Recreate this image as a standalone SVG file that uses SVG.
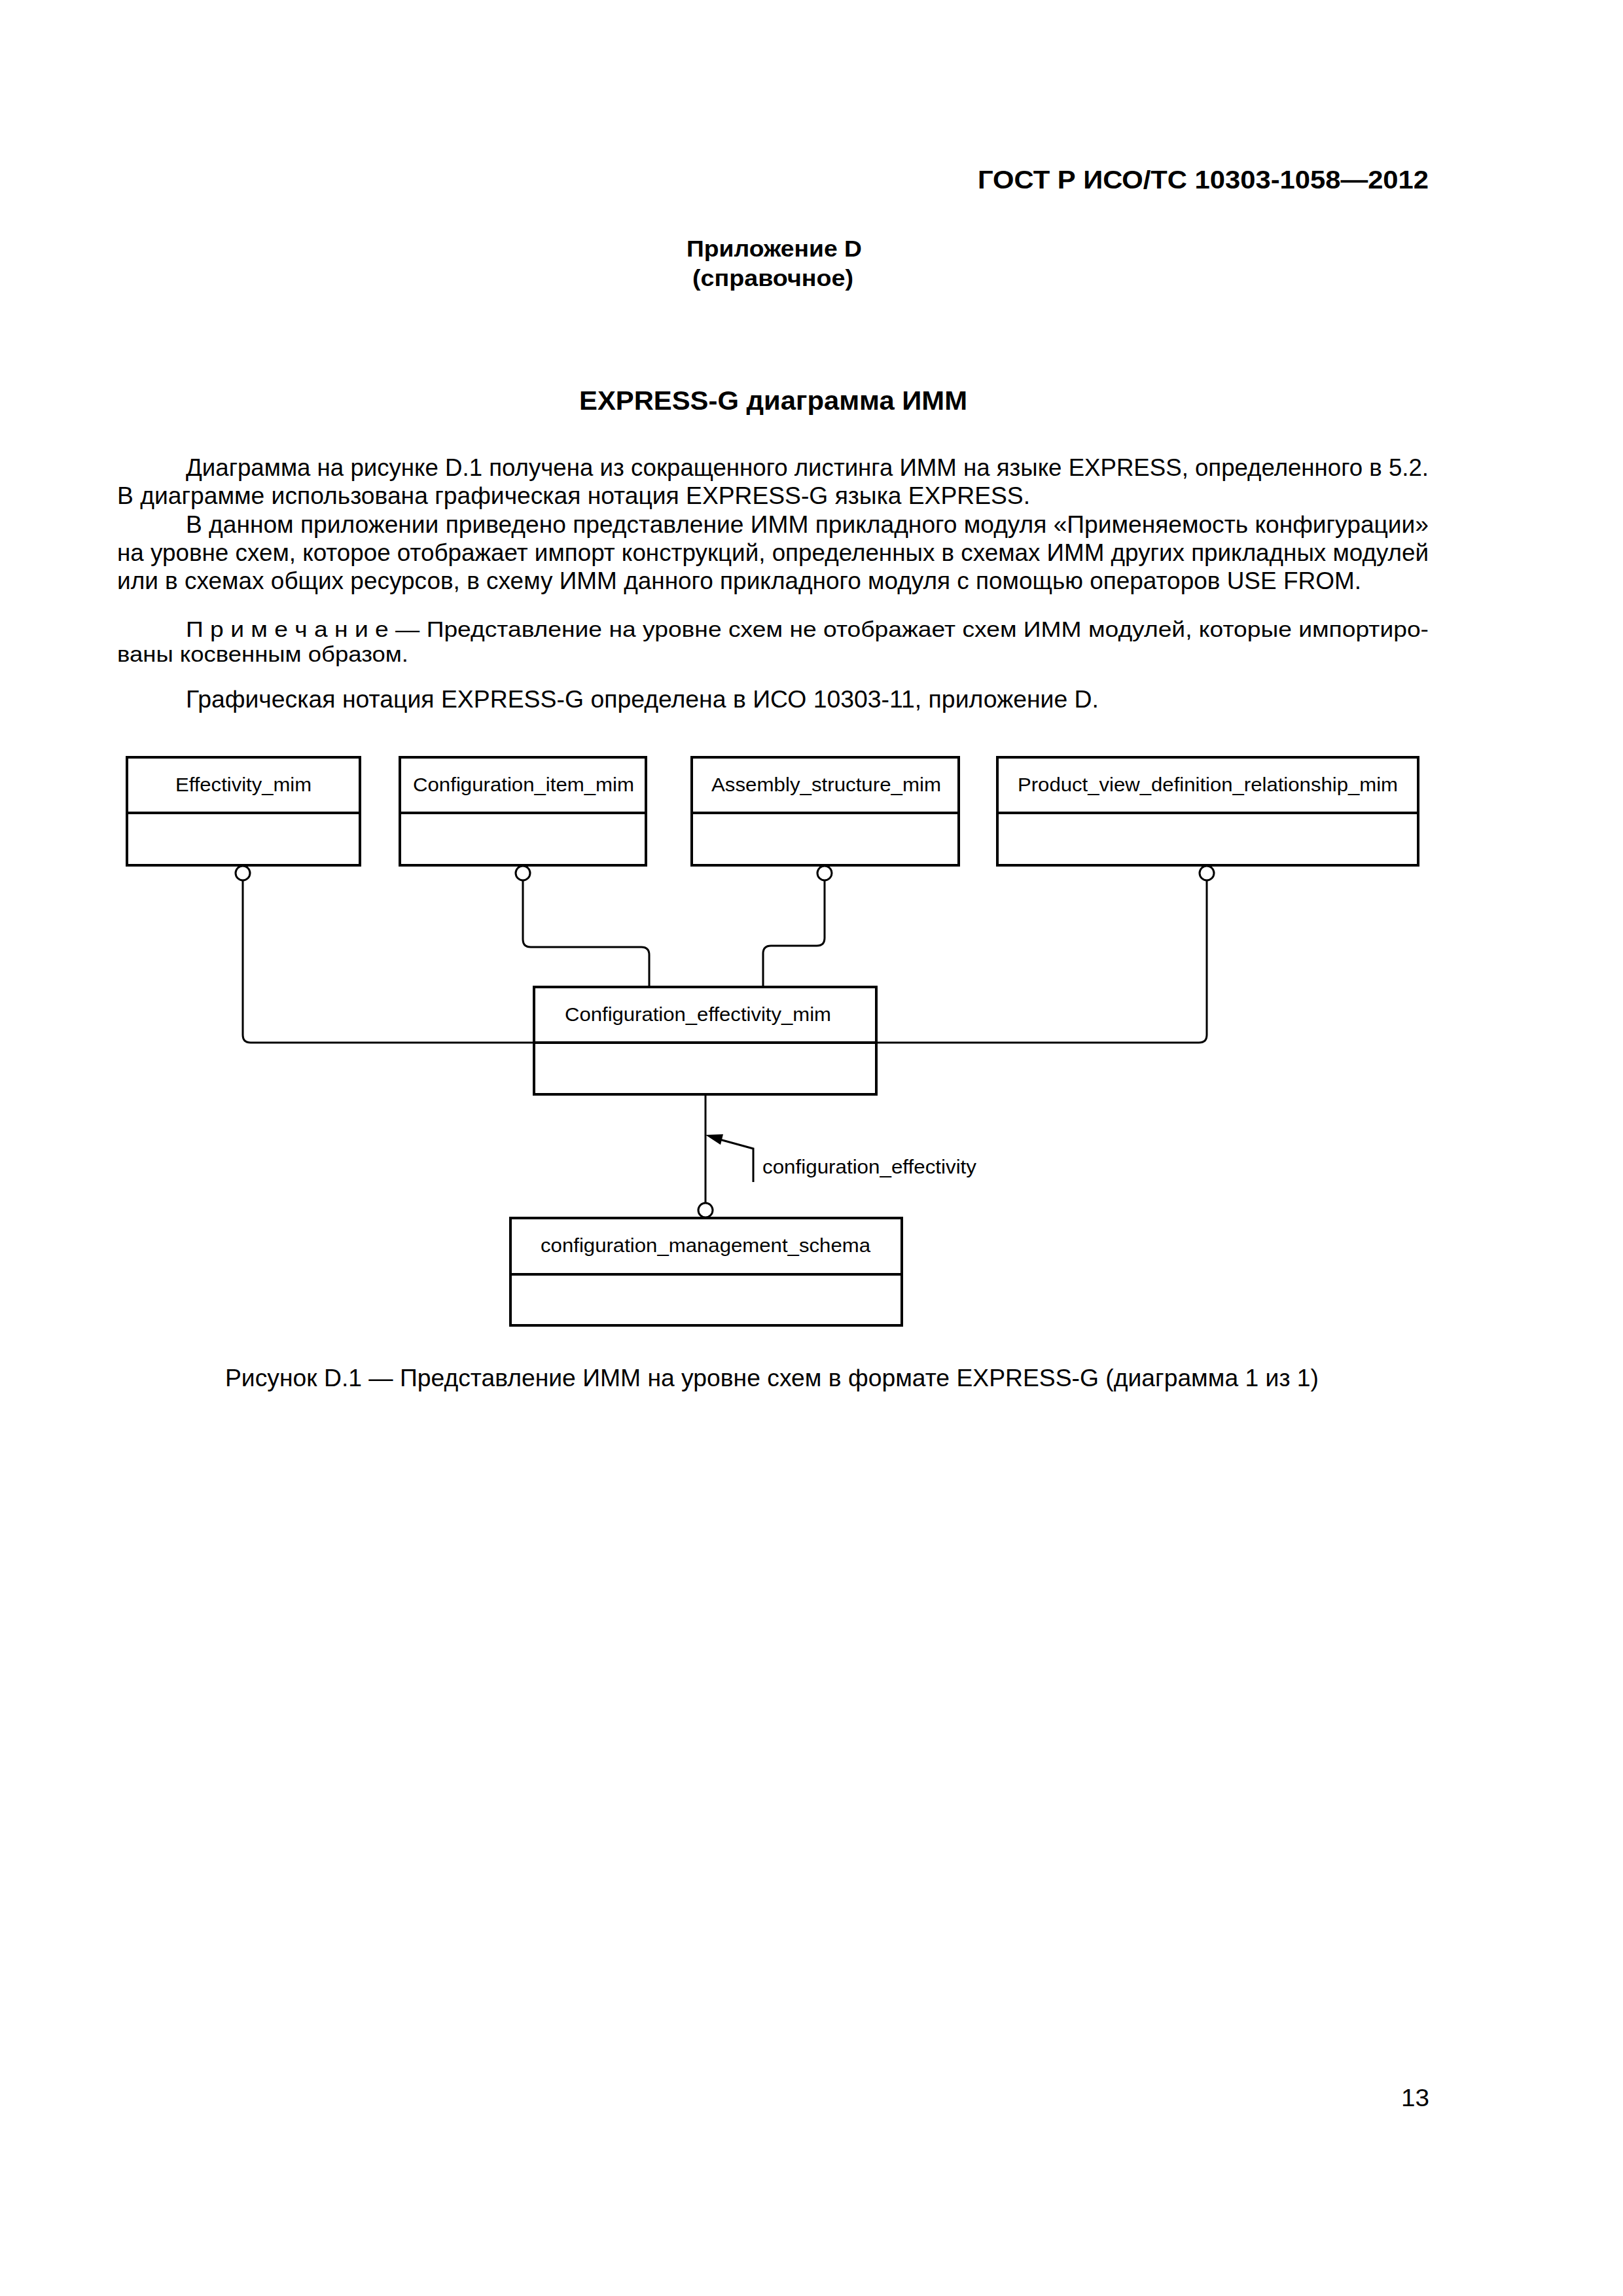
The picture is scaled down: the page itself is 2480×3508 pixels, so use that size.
<svg xmlns="http://www.w3.org/2000/svg" width="2480" height="3508" viewBox="0 0 2480 3508">
<style>
  text { font-family: "Liberation Sans", Arial, sans-serif; fill: #000; }
  .b { font-weight: bold; }
  .body { font-size: 36px; }
  .note { font-size: 33px; }
  .lbl { font-size: 30px; }
  .box { fill: #fff; stroke: #000; stroke-width: 4; }
  .div { stroke: #000; stroke-width: 4; }
  .con { fill: none; stroke: #000; stroke-width: 3; }
  .ring { fill: #fff; stroke: #000; stroke-width: 3; }
</style>
<rect width="2480" height="3508" fill="#fff"/>

<g id="page-text">
  <text class="b" x="1494" y="288" font-size="39" textLength="689" lengthAdjust="spacingAndGlyphs">ГОСТ Р ИСО/ТС 10303-1058—2012</text>
  <text class="b" x="1049" y="392" font-size="35" textLength="268" lengthAdjust="spacingAndGlyphs">Приложение D</text>
  <text class="b" x="1058" y="437" font-size="35" textLength="246" lengthAdjust="spacingAndGlyphs">(справочное)</text>
  <text class="b" x="885" y="626" font-size="40" textLength="593" lengthAdjust="spacingAndGlyphs">EXPRESS-G диаграмма ИММ</text>
  <text class="body" x="284" y="727" textLength="1899" lengthAdjust="spacingAndGlyphs">Диаграмма на рисунке D.1 получена из сокращенного листинга ИММ на языке EXPRESS, определенного в 5.2.</text>
  <text class="body" x="179" y="770" textLength="1395" lengthAdjust="spacingAndGlyphs">В диаграмме использована графическая нотация EXPRESS-G языка EXPRESS.</text>
  <text class="body" x="284" y="814" textLength="1899" lengthAdjust="spacingAndGlyphs">В данном приложении приведено представление ИММ прикладного модуля «Применяемость конфигурации»</text>
  <text class="body" x="179" y="857" textLength="2004" lengthAdjust="spacingAndGlyphs">на уровне схем, которое отображает импорт конструкций, определенных в схемах ИММ других прикладных модулей</text>
  <text class="body" x="179" y="900" textLength="1901" lengthAdjust="spacingAndGlyphs">или в схемах общих ресурсов, в схему ИММ данного прикладного модуля с помощью операторов USE FROM.</text>
  <text class="note" x="284" y="973" textLength="1899" lengthAdjust="spacingAndGlyphs">П р и м е ч а н и е — Представление на уровне схем не отображает схем ИММ модулей, которые импортиро-</text>
  <text class="note" x="179" y="1011" textLength="445" lengthAdjust="spacingAndGlyphs">ваны косвенным образом.</text>
  <text class="body" x="284" y="1081" textLength="1395" lengthAdjust="spacingAndGlyphs">Графическая нотация EXPRESS-G определена в ИСО 10303-11, приложение D.</text>
  <text class="body" x="344" y="2118" textLength="1671" lengthAdjust="spacingAndGlyphs">Рисунок D.1 — Представление ИММ на уровне схем в формате EXPRESS-G (диаграмма 1 из 1)</text>
  <text class="body" x="2141" y="3218" textLength="43" lengthAdjust="spacingAndGlyphs">13</text>
</g>

<g id="connectors">
  <path class="con" d="M371 1345 V1581 Q371 1593 383 1593 H816"/>
  <path class="con" d="M799 1345 V1435 Q799 1447 811 1447 H980 Q992 1447 992 1459 V1508"/>
  <path class="con" d="M1260 1345 V1433 Q1260 1445 1248 1445 H1178 Q1166 1445 1166 1457 V1508"/>
  <path class="con" d="M1844 1345 V1581 Q1844 1593 1832 1593 H1339"/>
  <path class="con" d="M1078 1672 V1838"/>
  <circle class="ring" cx="371" cy="1334" r="11"/>
  <circle class="ring" cx="799" cy="1334" r="11"/>
  <circle class="ring" cx="1260" cy="1334" r="11"/>
  <circle class="ring" cx="1844" cy="1334" r="11"/>
  <circle class="ring" cx="1078" cy="1849" r="11"/>
  <g id="label-configuration_effectivity">
    <polyline class="con" points="1100,1741 1151,1755 1151,1806"/>
    <polygon points="1078,1734 1105,1733 1101,1749" fill="#000"/>
    <text class="lbl" x="1165" y="1793" textLength="327" lengthAdjust="spacingAndGlyphs">configuration_effectivity</text>
  </g>
</g>

<g id="node-effectivity_mim">
  <rect class="box" x="194" y="1157" width="356" height="165"/>
  <line class="div" x1="194" y1="1242" x2="550" y2="1242"/>
  <text class="lbl" x="268" y="1209" textLength="208" lengthAdjust="spacingAndGlyphs">Effectivity_mim</text>
</g>
<g id="node-configuration_item_mim">
  <rect class="box" x="611" y="1157" width="376" height="165"/>
  <line class="div" x1="611" y1="1242" x2="987" y2="1242"/>
  <text class="lbl" x="631" y="1209" textLength="338" lengthAdjust="spacingAndGlyphs">Configuration_item_mim</text>
</g>
<g id="node-assembly_structure_mim">
  <rect class="box" x="1057" y="1157" width="408" height="165"/>
  <line class="div" x1="1057" y1="1242" x2="1465" y2="1242"/>
  <text class="lbl" x="1087" y="1209" textLength="351" lengthAdjust="spacingAndGlyphs">Assembly_structure_mim</text>
</g>
<g id="node-product_view_definition_relationship_mim">
  <rect class="box" x="1524" y="1157" width="643" height="165"/>
  <line class="div" x1="1524" y1="1242" x2="2167" y2="1242"/>
  <text class="lbl" x="1555" y="1209" textLength="581" lengthAdjust="spacingAndGlyphs">Product_view_definition_relationship_mim</text>
</g>
<g id="node-configuration_effectivity_mim">
  <rect class="box" x="816" y="1508" width="523" height="164"/>
  <line class="div" x1="816" y1="1593" x2="1339" y2="1593"/>
  <text class="lbl" x="863" y="1560" textLength="407" lengthAdjust="spacingAndGlyphs">Configuration_effectivity_mim</text>
</g>
<g id="node-configuration_management_schema">
  <rect class="box" x="780" y="1861" width="598" height="164"/>
  <line class="div" x1="780" y1="1947" x2="1378" y2="1947"/>
  <text class="lbl" x="826" y="1913" textLength="504" lengthAdjust="spacingAndGlyphs">configuration_management_schema</text>
</g>
</svg>
